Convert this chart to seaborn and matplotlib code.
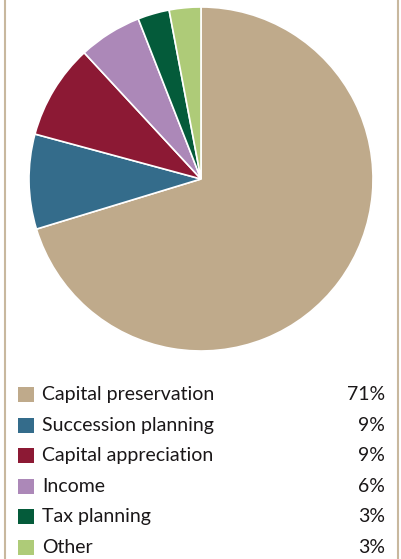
import matplotlib
matplotlib.use("Agg")
import matplotlib.pyplot as plt
from matplotlib.patches import Rectangle
import seaborn as sns

categories = ["Capital preservation", "Succession planning", "Capital appreciation",
              "Income", "Tax planning", "Other"]
shares = [71, 9, 9, 6, 3, 3]
share_labels = ["71%", "9%", "9%", "6%", "3%", "3%"]
colors = ["#BFAA8B", "#346C8B", "#8C1934", "#AC88B8", "#045B3A", "#AECB78"]

sns.set_theme(style="white")
plt.rcParams["font.family"] = ["Lato", "DejaVu Sans"]
palette = sns.color_palette(colors)

W, H = 401, 559
fig = plt.figure(figsize=(W / 100, H / 100), dpi=100)
fig.patch.set_facecolor("white")

# Pie: centre (201, 179) px, radius 172 px
cx, cy, r = 201, 179, 172
ax = fig.add_axes([(cx - r) / W, (H - cy - r) / H, 2 * r / W, 2 * r / H])
ax.pie(shares, colors=palette, startangle=90, counterclock=False,
       wedgeprops=dict(edgecolor="white", linewidth=1.2))
ax.set_xlim(-1, 1)
ax.set_ylim(-1, 1)
ax.axis("off")

# Overlay in pixel coordinates for the legend and frame lines
ov = fig.add_axes([0, 0, 1, 1], facecolor="none")
ov.set_xlim(0, W)
ov.set_ylim(H, 0)
ov.axis("off")

for x in (5, 398):
    ov.plot([x, x], [0, H], color="#C8B89E", lw=1.5, solid_capstyle="butt")

row0, step = 394.5, 30.6
for i, (cat, lab) in enumerate(zip(categories, share_labels)):
    y = row0 + i * step
    ov.add_patch(Rectangle((18, y - 7.5), 16, 15, facecolor=palette[i], edgecolor="none"))
    ov.text(42, y, cat, fontsize=14, color="#1A1718", va="center", ha="left")
    ov.text(385, y, lab, fontsize=14, color="#1A1718", va="center", ha="right")

fig.savefig("out.png", dpi=100, facecolor="white")
